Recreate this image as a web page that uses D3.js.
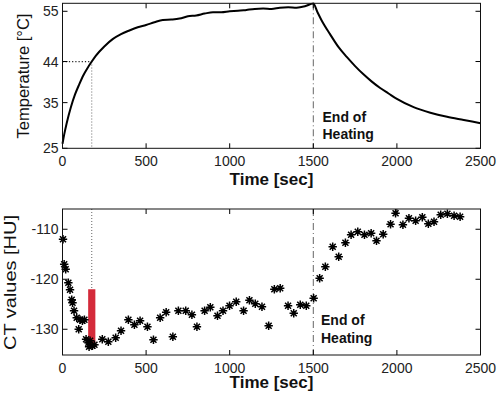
<!DOCTYPE html>
<html><head><meta charset="utf-8">
<script src="https://cdn.jsdelivr.net/npm/d3@7/dist/d3.min.js"></script>
<style>
body{margin:0;background:#fff;}
svg{display:block;font-family:"Liberation Sans",Arial,sans-serif;}
</style></head>
<body>
<svg id="c" width="500" height="401"></svg>
<script>
// ---- data ----
const tempTime = [0,10,25,50,75,100,125,150,175,200,250,300,350,400,450,500,550,600,650,700,750,800,850,900,950,1000,1050,1100,1150,1200,1250,1300,1350,1400,1450,1500,1525,1550,1600,1650,1700,1750,1800,1850,1900,1950,2000,2100,2200,2300,2400,2500];
const tempValues = [26,28,30.5,34,36.8,39,41,42.6,44,45.3,47.3,48.9,50,50.8,51.5,52,52.6,53.1,53.2,53.4,53.9,54.1,54.5,54.8,54.8,55,55.1,55.3,55.5,55.6,55.5,55.8,55.9,55.8,56.1,56.7,54.8,53.0,50.0,47.2,45.0,43.0,41.2,39.6,38.2,37.0,35.8,34.0,32.8,31.9,31.2,30.5];
const ctTime = [3,10,19,35,45,55,60,69,85,97,105,119,131,141,155,159,165,179,191,238,274,318,350,394,430,464,508,544,584,620,660,693,737,774,804,850,884,927,960,999,1039,1083,1118,1153,1193,1233,1267,1302,1349,1383,1422,1458,1502,1538,1572,1616,1652,1692,1726,1766,1806,1846,1878,1918,1962,1992,2036,2072,2112,2152,2188,2222,2262,2302,2342,2378];
const ctValues = [-112,-117,-118,-120.7,-122.1,-124.1,-124.7,-126.3,-127.7,-130,-128.1,-128.3,-128.1,-132,-132.7,-133.5,-132.3,-133.3,-133.1,-132,-132.5,-131.7,-130.3,-128.1,-129.1,-128.3,-129.5,-132.1,-127.7,-126.6,-131.5,-126.3,-126.3,-127.1,-129.5,-126.3,-125.6,-127.3,-126.3,-125.3,-124.5,-126.3,-124.2,-124.9,-125.5,-129.3,-122,-121.8,-125.3,-126.8,-125.1,-125.3,-123.8,-119.8,-117.5,-113.5,-115.5,-112.7,-111.1,-110.5,-111.1,-110.8,-112.3,-111,-109,-106.8,-109.1,-107.8,-108.3,-107.6,-108.9,-108.5,-107.1,-106.9,-107.3,-107.5];
const xTicks = [0,500,1000,1500,2000,2500];
const tempTicks = [25,35,44,55];
const ctTicks = [-130,-120,-110];
const markTime = 175;      // time at 44 °C
const markTemp = 44;
const heatEnd = 1500;
const barRange = [-133, -122];
const xLabel = "Time [sec]";
const tempLabel = "Temperature [°C]";
const ctLabel = "CT values [HU]";
const endLabel = ["End of", "Heating"];

// ---- layout ----
const svg = d3.select("#c");
const L = 62.5, R = 480.5;
const x = d3.scaleLinear().domain([0,2500]).range([L,R]);
const yT = d3.scaleLinear().domain([25,56.75]).range([148.3,3.3]);
const yC = d3.scaleLinear().domain([-135.15,-105.95]).range([355,209]);

function panel(y, yTicks, top, bottom){
  const g = svg.append("g");
  const tl = 5;
  xTicks.forEach(t=>{
    g.append("line").attr("x1",x(t)).attr("x2",x(t)).attr("y1",bottom).attr("y2",bottom-tl).attr("stroke","#000");
    g.append("line").attr("x1",x(t)).attr("x2",x(t)).attr("y1",top).attr("y2",top+tl).attr("stroke","#000");
    g.append("text").attr("x",x(t)).attr("y",bottom+17.5).attr("text-anchor","middle")
      .attr("font-size",14).attr("fill","#222").text(t);
  });
  yTicks.forEach(v=>{
    g.append("line").attr("x1",L).attr("x2",L+tl).attr("y1",y(v)).attr("y2",y(v)).attr("stroke","#000");
    g.append("line").attr("x1",R).attr("x2",R-tl).attr("y1",y(v)).attr("y2",y(v)).attr("stroke","#000");
    g.append("text").attr("x",L-4).attr("y",y(v)+5).attr("text-anchor","end")
      .attr("font-size",14).attr("fill","#222").text(v);
  });
  return g;
}

// ---- top panel ----
const topT = 3.3, botT = 148.3;
svg.append("line").attr("x1",L).attr("x2",x(markTime)).attr("y1",yT(markTemp)).attr("y2",yT(markTemp))
  .attr("stroke","#222").attr("stroke-width",1.2).attr("stroke-dasharray","1.2,2");
svg.append("line").attr("x1",x(markTime)).attr("x2",x(markTime)).attr("y1",yT(markTemp)).attr("y2",botT)
  .attr("stroke","#666").attr("stroke-width",1).attr("stroke-dasharray","1,2");
svg.append("line").attr("x1",x(heatEnd)).attr("x2",x(heatEnd)).attr("y1",topT).attr("y2",botT)
  .attr("stroke","#666").attr("stroke-width",1).attr("stroke-dasharray","7,3,1,3");
const line = d3.line().x((d,i)=>x(tempTime[i])).y(d=>yT(d)).curve(d3.curveMonotoneX);
svg.append("path").datum(tempValues).attr("d",line).attr("fill","none").attr("stroke","#000").attr("stroke-width",2);
panel(yT, tempTicks, topT, botT);
svg.append("rect").attr("x",L).attr("y",topT).attr("width",R-L).attr("height",botT-topT)
  .attr("fill","none").attr("stroke","#111").attr("stroke-width",1);
svg.append("text").attr("x",322.5).attr("y",121.5).attr("font-size",14).attr("font-weight","bold").attr("fill","#111").text(endLabel[0]);
svg.append("text").attr("x",322.5).attr("y",139).attr("font-size",14).attr("font-weight","bold").attr("fill","#111").text(endLabel[1]);
svg.append("text").attr("x",(L+R)/2).attr("y",185).attr("text-anchor","middle").attr("font-size",17).attr("font-weight","bold").attr("fill","#111").text(xLabel);
svg.append("text").attr("transform","translate(29,76) rotate(-90)").attr("text-anchor","middle").attr("font-size",16.5).attr("fill","#111").text(tempLabel);

// ---- bottom panel ----
const topC = 209, botC = 355;
svg.append("rect").attr("x",x(markTime)-3.6).attr("width",7.2).attr("y",yC(barRange[1])).attr("height",yC(barRange[0])-yC(barRange[1]))
  .attr("fill","#d42a3a");
svg.append("line").attr("x1",x(markTime)).attr("x2",x(markTime)).attr("y1",topC).attr("y2",yC(barRange[1]))
  .attr("stroke","#666").attr("stroke-width",1).attr("stroke-dasharray","1,2");
svg.append("line").attr("x1",x(heatEnd)).attr("x2",x(heatEnd)).attr("y1",topC).attr("y2",botC)
  .attr("stroke","#666").attr("stroke-width",1).attr("stroke-dasharray","7,3,1,3");
const star = "M-4.2,0H4.2M0,-4.2V4.2M-3,-3L3,3M-3,3L3,-3";
svg.append("g").selectAll("path").data(ctValues).join("path")
  .attr("transform",(d,i)=>`translate(${x(ctTime[i])},${yC(d)})`)
  .attr("d",star).attr("fill","none").attr("stroke","#000").attr("stroke-width",1.5);
panel(yC, ctTicks, topC, botC);
svg.append("rect").attr("x",L).attr("y",topC).attr("width",R-L).attr("height",botC-topC)
  .attr("fill","none").attr("stroke","#111").attr("stroke-width",1);
svg.append("text").attr("x",321).attr("y",325).attr("font-size",14).attr("font-weight","bold").attr("fill","#111").text(endLabel[0]);
svg.append("text").attr("x",321).attr("y",342.5).attr("font-size",14).attr("font-weight","bold").attr("fill","#111").text(endLabel[1]);
svg.append("text").attr("x",(L+R)/2).attr("y",388).attr("text-anchor","middle").attr("font-size",17).attr("font-weight","bold").attr("fill","#111").text(xLabel);
svg.append("text").attr("transform","translate(16,282.5) rotate(-90)").attr("text-anchor","middle").attr("font-size",17).attr("textLength",135).attr("lengthAdjust","spacingAndGlyphs").attr("fill","#111").text(ctLabel);
</script>
</body></html>
